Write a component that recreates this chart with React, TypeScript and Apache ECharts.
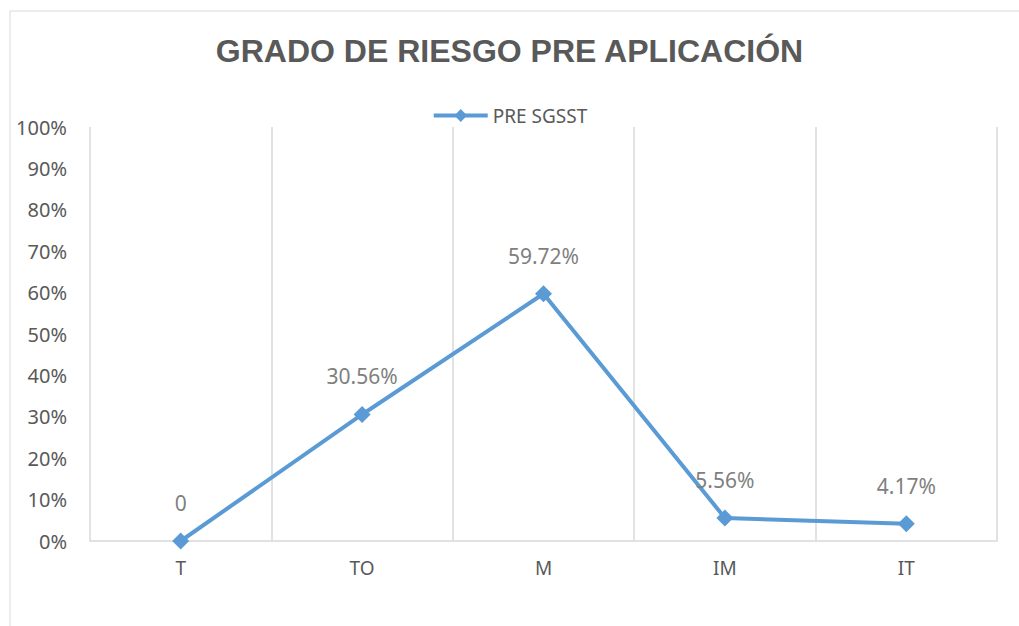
import React, { useEffect, useRef } from "react";
import * as echarts from "echarts";

const categories = ["T", "TO", "M", "IM", "IT"];
const seriesName = "PRE SGSST";
const values = [0, 30.56, 59.72, 5.56, 4.17];
const titleText = "GRADO DE RIESGO PRE APLICACIÓN";

export default function App() {
  const ref = useRef<HTMLDivElement>(null);
  useEffect(() => {
    document.body.style.margin = "0";
    const chart = echarts.init(ref.current!, null, { renderer: "svg" });
    const font = "Noto Sans";
    chart.setOption({
      animation: false,
      backgroundColor: "#ffffff",
      title: {
        text: titleText,
        left: "center",
        top: 30,
        textStyle: {
          fontFamily: "Liberation Sans",
          fontWeight: "bold",
          fontSize: 32,
          color: "#595959",
        },
      },
      legend: {
        top: 101,
        left: "center",
        data: [seriesName],
        itemWidth: 54,
        itemHeight: 16,
        itemGap: 6,
        lineStyle: { width: 4 },
        textStyle: { fontFamily: font, fontSize: 19, color: "#595959" },
      },
      graphic: [
        {
          type: "rect",
          shape: { x: 10, y: 11, width: 1030, height: 640 },
          style: { fill: "none", stroke: "#d9d9d9", lineWidth: 1 },
          silent: true,
          z: -1,
        },
      ],
      grid: { left: 90, right: 22, top: 127, bottom: 85, containLabel: false },
      xAxis: {
        type: "category",
        data: categories,
        boundaryGap: true,
        axisLine: { lineStyle: { color: "#d9d9d9", width: 1.5 } },
        axisTick: { show: false },
        splitLine: { show: true, lineStyle: { color: "#d9d9d9", width: 1.5 } },
        axisLabel: { fontFamily: font, fontSize: 19, color: "#595959", margin: 17 },
      },
      yAxis: {
        type: "value",
        min: 0,
        max: 100,
        interval: 10,
        axisLine: { show: false },
        axisTick: { show: false },
        splitLine: { show: false },
        axisLabel: {
          formatter: "{value}%",
          fontFamily: font,
          fontSize: 20,
          color: "#595959",
          margin: 23,
        },
      },
      series: [
        {
          name: seriesName,
          type: "line",
          data: values,
          symbol: "diamond",
          symbolSize: 17,
          lineStyle: { color: "#5B9BD5", width: 4 },
          itemStyle: { color: "#5B9BD5" },
          label: {
            show: true,
            position: "top",
            distance: 19,
            fontFamily: font,
            fontSize: 21,
            color: "#7f7f7f",
            formatter: (p: any) => (p.value === 0 ? "0" : p.value.toFixed(2) + "%"),
          },
        },
      ],
    });
    return () => chart.dispose();
  }, []);
  return <div ref={ref} style={{ width: 1019, height: 626 }} />;
}
